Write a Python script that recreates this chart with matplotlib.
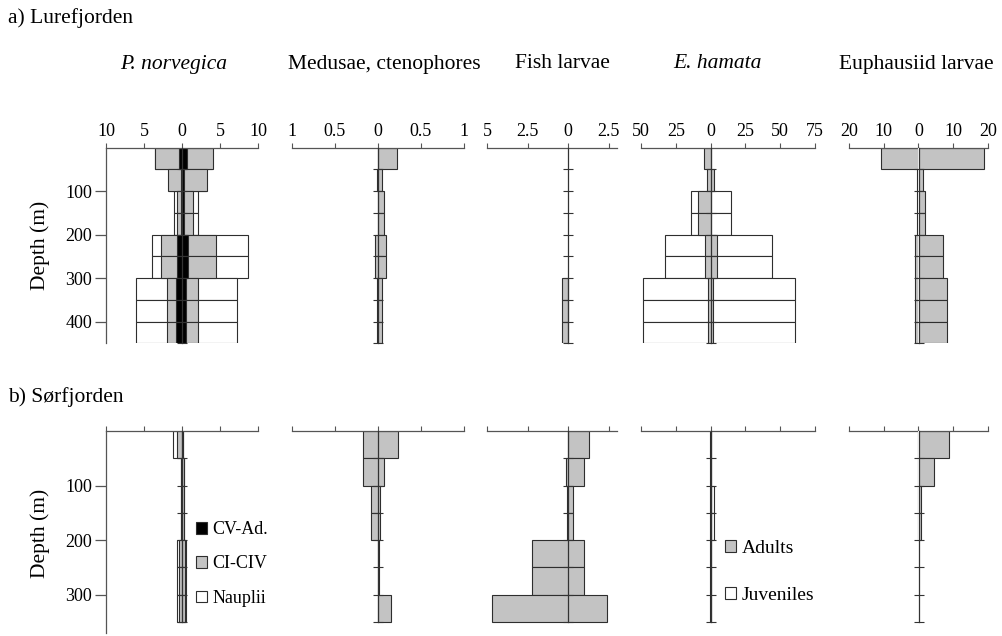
import numpy as np
import matplotlib
matplotlib.use('Agg')
import matplotlib.pyplot as plt
from matplotlib.patches import Patch

plt.rcParams['font.family'] = ['Liberation Serif', 'DejaVu Serif']

# ---------------- data ----------------
lure_edges = [0, 50, 100, 150, 200, 250, 300, 350, 400, 450]
sor_edges = [0, 50, 100, 150, 200, 250, 300, 350]

panel_titles = ['P. norvegica', 'Medusae, ctenophores', 'Fish larvae', 'E. hamata', 'Euphausiid larvae']
title_italic = [True, False, False, True, False]

pn_legend = ['CV-Ad.', 'CI-CIV', 'Nauplii']
eh_legend = ['Adults', 'Juveniles']

xticks_list = [[-10, -5, 0, 5, 10], [-1, -0.5, 0, 0.5, 1], [-5, -2.5, 0, 2.5],
               [-50, -25, 0, 25, 50, 75], [-20, -10, 0, 10, 20]]
xlims = [(-10, 10), (-1, 1), (-5, 3), (-50, 75), (-20, 20)]
lure_depth_ticks = [100, 200, 300, 400]
sor_depth_ticks = [100, 200, 300]

# Lurefjorden (left side / right side of the centre line)
lure_pn_nauplii_L = [3.5, 1.7, 1.0, 1.0, 4.0, 4.0, 6.0, 6.0, 6.0]
lure_pn_nauplii_R = [4.0, 3.2, 2.15, 2.15, 8.7, 8.7, 7.2, 7.2, 7.2]
lure_pn_c14_L = [3.55, 1.8, 0.7, 0.7, 2.7, 2.7, 2.0, 2.0, 2.0]
lure_pn_c14_R = [4.1, 3.3, 1.5, 1.5, 4.5, 4.5, 2.15, 2.15, 2.15]
lure_pn_cvad_L = [0.35, 0.15, 0.15, 0.15, 0.6, 0.6, 0.8, 0.8, 0.8]
lure_pn_cvad_R = [0.7, 0.25, 0.25, 0.25, 0.8, 0.8, 0.5, 0.5, 0.5]
lure_med_L = [0.0, 0.01, 0.005, 0.005, 0.04, 0.04, 0.015, 0.015, 0.015]
lure_med_R = [0.22, 0.05, 0.07, 0.07, 0.09, 0.09, 0.05, 0.05, 0.05]
lure_fish_L = [0, 0, 0, 0, 0, 0, 0.4, 0.4, 0.4]
lure_fish_R = [0, 0, 0, 0, 0, 0, 0, 0, 0]
lure_eh_juv_L = [0, 0, 14.4, 14.4, 32.5, 32.5, 48.8, 48.8, 48.8]
lure_eh_juv_R = [0, 0, 14.7, 14.7, 44.0, 44.0, 60.3, 60.3, 60.3]
lure_eh_ad_L = [4.6, 2.6, 9.1, 9.1, 4.3, 4.3, 2.2, 2.2, 2.2]
lure_eh_ad_R = [0.4, 2.6, 0.0, 0.0, 4.3, 4.3, 1.4, 1.4, 1.4]
lure_eup_L = [10.7, 0.5, 0.5, 0.5, 1.0, 1.0, 1.0, 1.0, 1.0]
lure_eup_R = [18.9, 1.2, 1.9, 1.9, 7.1, 7.1, 8.1, 8.1, 8.1]

# Sørfjorden
sor_pn_nauplii_L = [1.15, 0.1, 0.1, 0.1, 0.65, 0.65, 0.65]
sor_pn_nauplii_R = [0.15, 0.2, 0.2, 0.2, 0.55, 0.55, 0.55]
sor_pn_c14_L = [0.7, 0.13, 0.13, 0.13, 0.4, 0.4, 0.4]
sor_pn_c14_R = [0.1, 0.26, 0.26, 0.26, 0.33, 0.33, 0.33]
sor_pn_cvad_L = [0.05, 0.05, 0.05, 0.05, 0.05, 0.05, 0.05]
sor_pn_cvad_R = [0.05, 0.05, 0.05, 0.05, 0.05, 0.05, 0.05]
sor_med_L = [0.175, 0.175, 0.08, 0.08, 0.0, 0.0, 0.0]
sor_med_R = [0.23, 0.066, 0.027, 0.027, 0.01, 0.01, 0.15]
sor_fish_L = [0.0, 0.16, 0.08, 0.08, 2.25, 2.25, 4.7]
sor_fish_R = [1.3, 0.95, 0.3, 0.3, 0.95, 0.95, 2.4]
sor_eh_juv_L = [0, 0, 0, 0, 0, 0, 0]
sor_eh_juv_R = [0, 0, 2.4, 2.4, 0, 0, 0]
sor_eh_ad_L = [0.5, 0.5, 0.5, 0.5, 0.5, 0.5, 0.5]
sor_eh_ad_R = [0.6, 0.6, 0.6, 0.6, 0.6, 0.6, 0.6]
sor_eup_L = [0, 0, 0.1, 0.1, 0, 0, 0]
sor_eup_R = [8.7, 4.5, 0.7, 0.7, 0, 0, 0]

# ---------------- style ----------------
W, H = 1003, 636
EDGE = '#2e2e2e'
AXC = '#555555'
GREY = '#c3c3c3'
FS_T = 15.5
FS_TICK = 13

fig = plt.figure(figsize=(W / 100, H / 100), dpi=100)
fig.patch.set_facecolor('white')

col_x = [106, 292, 487, 641, 849]
col_w = [152, 172, 130, 174, 139]
rows = [dict(top=147.7, bot=343.4, ymax=450, edges=lure_edges, dticks=lure_depth_ticks, labels=True),
        dict(top=431.0, bot=633.0, ymax=370, edges=sor_edges, dticks=sor_depth_ticks, labels=False)]

lure_series = [
    [(lure_pn_nauplii_L, lure_pn_nauplii_R, 'white'), (lure_pn_c14_L, lure_pn_c14_R, GREY),
     (lure_pn_cvad_L, lure_pn_cvad_R, 'black')],
    [(lure_med_L, lure_med_R, GREY)],
    [(lure_fish_L, lure_fish_R, GREY)],
    [(lure_eh_juv_L, lure_eh_juv_R, 'white'), (lure_eh_ad_L, lure_eh_ad_R, GREY)],
    [(lure_eup_L, lure_eup_R, GREY)],
]
sor_series = [
    [(sor_pn_nauplii_L, sor_pn_nauplii_R, 'white'), (sor_pn_c14_L, sor_pn_c14_R, GREY),
     (sor_pn_cvad_L, sor_pn_cvad_R, 'black')],
    [(sor_med_L, sor_med_R, GREY)],
    [(sor_fish_L, sor_fish_R, GREY)],
    [(sor_eh_juv_L, sor_eh_juv_R, 'white'), (sor_eh_ad_L, sor_eh_ad_R, GREY)],
    [(sor_eup_L, sor_eup_R, GREY)],
]


def draw_bars(ax, edges, L, R, face, z):
    e = np.asarray(edges, float)
    centers = (e[:-1] + e[1:]) / 2
    h = np.diff(e)
    L = np.asarray(L, float)
    R = np.asarray(R, float)
    m = (L + R) > 0
    ax.barh(centers[m], (L + R)[m], left=-L[m], height=h[m], color=face,
            edgecolor=EDGE, linewidth=0.8, zorder=z)


axes = []
for r, (row, series) in enumerate(zip(rows, [lure_series, sor_series])):
    for c in range(5):
        rect = [col_x[c] / W, 1 - row['bot'] / H, col_w[c] / W, (row['bot'] - row['top']) / H]
        ax = fig.add_axes(rect)
        ax.set_facecolor('none')
        for k, (L, R, face) in enumerate(series[c]):
            draw_bars(ax, row['edges'], L, R, face, 1 + k * 0.1)
        ax.set_xlim(*xlims[c])
        ax.set_ylim(row['ymax'], 0)
        ax.xaxis.tick_top()
        ax.set_xticks(xticks_list[c])
        if row['labels']:
            ax.set_xticklabels([f'{abs(t):g}' for t in xticks_list[c]])
        else:
            ax.set_xticklabels([])
        ax.tick_params(axis='x', direction='out', length=3.5, width=0.8, pad=2,
                       labelsize=FS_TICK, color=AXC)
        for s in ['bottom', 'right']:
            ax.spines[s].set_visible(False)
        ax.spines['top'].set_color(AXC)
        ax.spines['top'].set_linewidth(0.9)
        if c == 0:
            ax.spines['left'].set_color(AXC)
            ax.spines['left'].set_linewidth(0.9)
            ax.set_yticks(row['dticks'])
            ax.tick_params(axis='y', direction='out', length=8, width=0.9, pad=2,
                           labelsize=FS_TICK, color=AXC)
        else:
            ax.spines['left'].set_visible(False)
            ax.set_yticks([])
        # centre line with ticks at bin boundaries
        x0, x1 = xlims[c]
        sec = ax.secondary_yaxis((0 - x0) / (x1 - x0))
        sec.set_zorder(5)
        sec.set_yticks(row['edges'][1:])
        sec.tick_params(axis='y', direction='inout', length=7, width=0.8, color='#333333',
                        labelleft=False, labelright=False)
        for s in ['left', 'right']:
            sec.spines[s].set_bounds(0, row['edges'][-1])
            sec.spines[s].set_color('#333333')
            sec.spines[s].set_linewidth(0.9)
        axes.append(ax)

# texts
fig.text(8 / W, 1 - 18 / H, 'a) Lurefjorden', ha='left', va='center', fontsize=FS_T)
fig.text(8 / W, 1 - 397 / H, 'b) Sørfjorden', ha='left', va='center', fontsize=FS_T)
title_x = [174, 384, 562, 717, 916]
for t, tx, it in zip(panel_titles, title_x, title_italic):
    fig.text(tx / W, 1 - 64 / H, t, ha='center', va='center', fontsize=FS_T,
             style='italic' if it else 'normal')
fig.text(40 / W, 1 - 245 / H, 'Depth (m)', rotation=90, ha='center', va='center', fontsize=FS_T)
fig.text(40 / W, 1 - 533 / H, 'Depth (m)', rotation=90, ha='center', va='center', fontsize=FS_T)

# legends
pn_handles = [Patch(facecolor='black', edgecolor=EDGE, linewidth=0.8),
              Patch(facecolor=GREY, edgecolor=EDGE, linewidth=0.8),
              Patch(facecolor='white', edgecolor=EDGE, linewidth=0.8)]
fig.legend(pn_handles, pn_legend, loc='center left', bbox_to_anchor=(196 / W, 1 - 564 / H),
           frameon=False, fontsize=13, handlelength=0.6, handleheight=0.6,
           handletextpad=0.3, labelspacing=0.95, borderpad=0, borderaxespad=0)
eh_handles = [Patch(facecolor=GREY, edgecolor=EDGE, linewidth=0.8),
              Patch(facecolor='white', edgecolor=EDGE, linewidth=0.8)]
fig.legend(eh_handles, eh_legend, loc='center left', bbox_to_anchor=(725 / W, 1 - 572 / H),
           frameon=False, fontsize=14, handlelength=0.55, handleheight=0.55,
           handletextpad=0.3, labelspacing=1.55, borderpad=0, borderaxespad=0)

fig.savefig('out.png', dpi=100, facecolor='white')
